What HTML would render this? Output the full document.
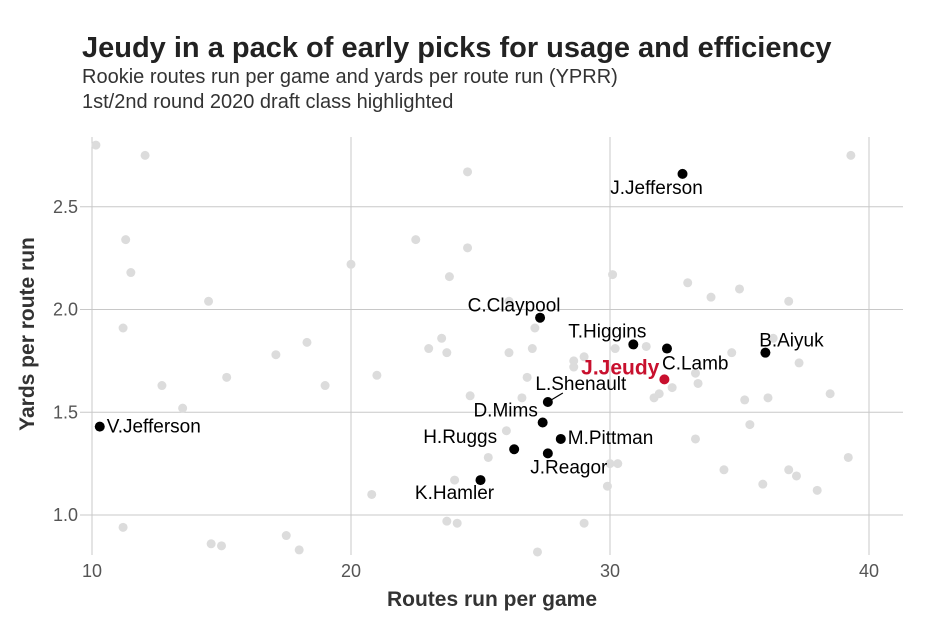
<!DOCTYPE html>
<html><head><meta charset="utf-8"><style>
body{margin:0;background:#fff;font-family:"Liberation Sans",sans-serif}
svg text{font-family:"Liberation Sans",sans-serif}
</style></head><body>
<svg id="c" width="936" height="615">
<text x="82" y="57" font-size="29" font-weight="bold" fill="#222">Jeudy in a pack of early picks for usage and efficiency</text>
<text x="82" y="83" font-size="20" fill="#333">Rookie routes run per game and yards per route run (YPRR)</text>
<text x="82" y="108" font-size="20" fill="#333">1st/2nd round 2020 draft class highlighted</text>
<g id="grid"></g><g id="pts"></g><g id="labs"></g>
<text x="492" y="606" font-size="21" font-weight="bold" text-anchor="middle" fill="#333">Routes run per game</text>
<text transform="translate(34,334) rotate(-90)" font-size="21" font-weight="bold" text-anchor="middle" fill="#333">Yards per route run</text>
</svg>
<script>
const xTicks=[10,20,30,40];
const yTicks=[1.0,1.5,2.0,2.5];
const greyX=[10.15,12.05,24.5,11.3,22.5,24.5,11.5,20.0,23.8,14.5,11.2,23.5,23.0,23.7,18.3,17.1,15.2,12.7,19.0,21.0,13.5,24.6,25.3,24.0,20.8,11.2,23.7,24.1,14.6,15.0,17.5,18.0,39.3,30.1,33.0,33.9,35.0,36.9,26.1,27.1,26.1,27.0,29.0,28.6,28.6,30.2,31.4,34.7,36.3,37.3,26.8,33.3,33.4,32.4,31.9,31.7,26.6,35.2,36.1,38.5,35.4,26.0,33.3,39.2,30.0,30.3,34.4,36.9,37.2,29.9,35.9,38.0,29.0,27.2];
const greyY=[2.80,2.75,2.67,2.34,2.34,2.30,2.18,2.22,2.16,2.04,1.91,1.86,1.81,1.79,1.84,1.78,1.67,1.63,1.63,1.68,1.52,1.58,1.28,1.17,1.10,0.94,0.97,0.96,0.86,0.85,0.90,0.83,2.75,2.17,2.13,2.06,2.10,2.04,2.04,1.91,1.79,1.81,1.77,1.75,1.72,1.81,1.82,1.79,1.86,1.74,1.67,1.69,1.64,1.62,1.59,1.57,1.57,1.56,1.57,1.59,1.44,1.41,1.37,1.28,1.25,1.25,1.22,1.22,1.19,1.14,1.15,1.12,0.96,0.82];
const names=["J.Jefferson","C.Claypool","T.Higgins","C.Lamb","B.Aiyuk","J.Jeudy","L.Shenault","D.Mims","M.Pittman","H.Ruggs","J.Reagor","K.Hamler","V.Jefferson"];
const hiX=[32.8,27.3,30.9,32.2,36.0,32.1,27.6,27.4,28.1,26.3,27.6,25.0,10.3];
const hiY=[2.66,1.96,1.83,1.81,1.79,1.66,1.55,1.45,1.37,1.32,1.30,1.17,1.43];
const lab=[[-26,20,'middle'],[-26,-6,'middle'],[-26,-7,'middle'],[-5,21,'start'],[26,-6,'middle'],[-5,-5,'end'],[33,-12,'middle'],[-37,-6,'middle'],[7,5,'start'],[-54,-6,'middle'],[21,20,'middle'],[-26,19,'middle'],[7,6,'start']];
const X=v=>92+25.9*(v-10), Y=v=>515-205.5*(v-1);
const NS="http://www.w3.org/2000/svg";
function mk(t,a,p){const e=document.createElementNS(NS,t);for(const k in a)e.setAttribute(k,a[k]);p.appendChild(e);return e;}
const g=document.getElementById('grid');
xTicks.forEach(t=>{
 const l=mk('line',{x1:X(t),x2:X(t),y1:137,y2:555,stroke:'#c8c8c8','stroke-width':1},g);
 
 
 const tx=mk('text',{x:X(t),y:577,'font-size':18,fill:'#555','text-anchor':'middle'},g);tx.textContent=t;
 
 
});
yTicks.forEach(t=>{
 const l=mk('line',{x1:80,x2:903,y1:Y(t),y2:Y(t),stroke:'#c8c8c8','stroke-width':1},g);
 
 
 const tx=mk('text',{x:78,y:Y(t)+6,'font-size':18,fill:'#555','text-anchor':'end'},g);tx.textContent=t.toFixed(1);
 
 
});
const p=document.getElementById('pts');
greyX.forEach((v,i)=>{
 const c=mk('circle',{cx:X(v),cy:Y(greyY[i]),r:4.5,fill:'#dcdcdc'},p);
 
 
});
const L=document.getElementById('labs');
names.forEach((n,i)=>{
 const cx=X(hiX[i]),cy=Y(hiY[i]),red=n==='J.Jeudy';
 if(n==='L.Shenault'){const ln=mk('line',{x1:cx,y1:cy,x2:cx+15,y2:cy-9,stroke:'#000','stroke-width':1.2},L);
  
  }
 const c=mk('circle',{cx:cx,cy:cy,r:5,fill:red?'#c8102e':'#000'},L);
 
 
 const t=mk('text',{x:cx+lab[i][0],y:cy+lab[i][1],'font-size':red?21:19,'font-weight':red?'bold':'normal',fill:red?'#c8102e':'#000','text-anchor':lab[i][2]},L);
 t.textContent=n;
 
 
});
</script>
</body></html>
